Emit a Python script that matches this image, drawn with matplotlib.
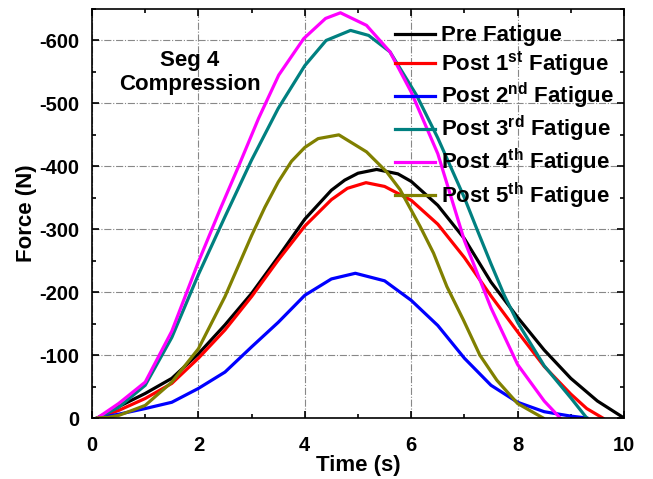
import numpy as np
import matplotlib
matplotlib.use("Agg")
import matplotlib.pyplot as plt
from matplotlib.ticker import MultipleLocator

plt.rcParams['font.family'] = ['Liberation Sans', 'DejaVu Sans']
plt.rcParams['font.weight'] = 'bold'
plt.rcParams['axes.unicode_minus'] = False
plt.rcParams['mathtext.fontset'] = 'custom'
plt.rcParams['mathtext.rm'] = 'Liberation Sans:bold'
plt.rcParams['mathtext.bf'] = 'Liberation Sans:bold'
plt.rcParams['mathtext.default'] = 'bf'

# Données (temps en s, force en N)
t_pre = [0.1, 0.5, 1, 1.5, 2, 2.5, 3, 3.5, 4, 4.5, 4.75, 5, 5.35, 5.75, 6, 6.5, 7, 7.5, 8, 8.5, 9, 9.5, 10]
f_pre = [0, -18, -39, -63, -102, -148, -198, -256, -316, -362, -378, -389, -395, -388, -376, -338, -285, -216, -160, -108, -63, -27, 0]

t_post1 = [0.1, 0.5, 1, 1.5, 2, 2.5, 3, 3.5, 4, 4.5, 4.8, 5.15, 5.5, 6, 6.5, 7, 7.5, 8, 8.5, 9, 9.3, 9.6]
f_post1 = [0, -12, -31, -55, -95, -140, -193, -251, -305, -347, -365, -374, -368, -346, -308, -255, -194, -137, -82, -38, -15, 0]

t_post2 = [0.1, 0.5, 1, 1.5, 2, 2.5, 3, 3.5, 4, 4.5, 4.95, 5.5, 6, 6.5, 7, 7.5, 8, 8.5, 9, 9.3]
f_post2 = [0, -6, -15, -25, -47, -73, -113, -152, -195, -221, -230, -218, -187, -147, -95, -52, -25, -10, -3, 0]

t_post3 = [0.1, 0.5, 1, 1.5, 2, 2.5, 3, 3.5, 4, 4.4, 4.86, 5.2, 5.6, 6.1, 6.5, 7, 7.25, 7.5, 7.75, 8, 8.5, 9, 9.3]
f_post3 = [0, -17, -52, -128, -228, -320, -410, -492, -560, -600, -616, -608, -582, -513, -445, -350, -297, -245, -195, -152, -83, -32, 0]

t_post4 = [0.1, 0.5, 1, 1.5, 2, 2.41, 2.76, 3.13, 3.51, 3.98, 4.39, 4.67, 5.16, 5.6, 6, 6.5, 7, 7.5, 8, 8.5, 8.8]
f_post4 = [0, -23, -57, -138, -248, -332, -401, -476, -545, -603, -635, -644, -624, -582, -518, -420, -282, -175, -85, -27, 0]

t_post5 = [0.1, 0.3, 0.5, 1, 1.5, 2, 2.5, 3, 3.25, 3.5, 3.75, 4, 4.25, 4.64, 5.16, 5.54, 5.79, 6.17, 6.42, 6.67, 6.98, 7.29, 7.61, 8, 8.48]
f_post5 = [0, -1, -4, -20, -57, -110, -193, -290, -335, -375, -408, -430, -444, -450, -423, -391, -363, -304, -262, -209, -156, -100, -60, -23, 0]

labels = ['Pre Fatigue', r'Post 1$^{st}$ Fatigue', r'Post 2$^{nd}$ Fatigue',
          r'Post 3$^{rd}$ Fatigue', r'Post 4$^{th}$ Fatigue', r'Post 5$^{th}$ Fatigue']
colors = ['#000000', '#ff0000', '#0000ff', '#008080', '#ff00ff', '#808000']

series = [(t_pre, f_pre), (t_post1, f_post1), (t_post2, f_post2),
          (t_post3, f_post3), (t_post4, f_post4), (t_post5, f_post5)]

fig = plt.figure(figsize=(6.53, 4.79), dpi=100)
ax = fig.add_axes([92 / 653, 1 - 418 / 479, 532 / 653, 409 / 479])

for (t, f), lab, col in zip(series, labels, colors):
    ax.plot(t, f, color=col, linewidth=2.3, label=lab, solid_joinstyle='round')

ax.set_xlim(0, 10)
ax.set_ylim(0, -650)

ax.xaxis.set_major_locator(MultipleLocator(2))
ax.xaxis.set_minor_locator(MultipleLocator(1))
ax.yaxis.set_major_locator(MultipleLocator(100))
ax.yaxis.set_minor_locator(MultipleLocator(50))
ax.tick_params(which='both', direction='in', top=True, right=True, width=1.2)
ax.tick_params(which='major', length=5, labelsize=14.5)
ax.tick_params(axis='x', which='major', pad=13)
ax.tick_params(axis='y', which='major', pad=9)
ax.tick_params(which='minor', length=3)
for sp in ax.spines.values():
    sp.set_linewidth(1.2)

ax.grid(True, which='major', color='#888888', linestyle='-.', linewidth=0.8)

ax.set_xlabel('Time (s)', fontsize=16, fontweight='bold', labelpad=0)
ax.set_ylabel('Force (N)', fontsize=16, fontweight='bold', labelpad=2)

ax.text(1.84, -549, 'Seg 4\nCompression', ha='center', va='center',
        fontsize=16, fontweight='bold', linespacing=1.2)

leg = ax.legend(loc='upper left', bbox_to_anchor=(0.5695, 0.96), frameon=False,
                fontsize=16, handlelength=1.8, handletextpad=0.25,
                labelspacing=0.13, borderpad=0, borderaxespad=0)

fig.savefig('out.png', dpi=100)
